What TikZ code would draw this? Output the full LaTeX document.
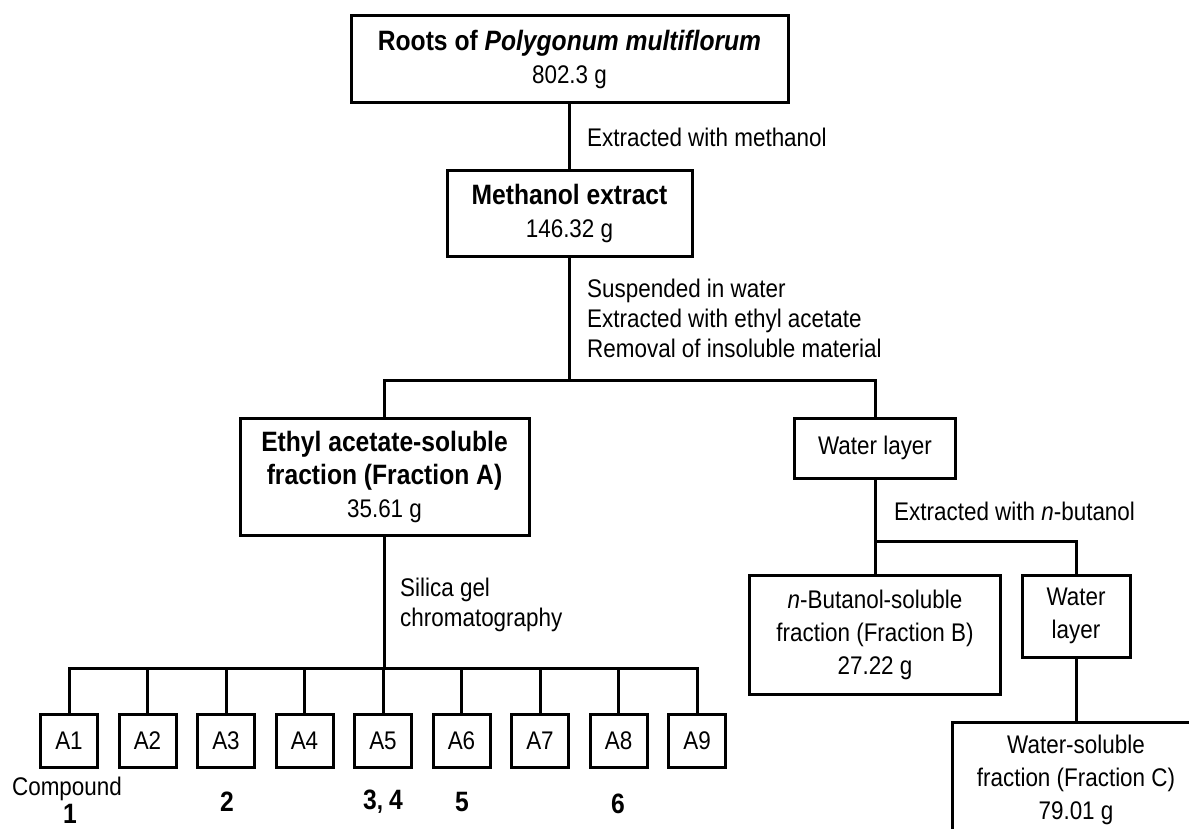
\documentclass[tikz,border=0pt]{standalone}
\usepackage{fontspec}
\setmainfont{Liberation Sans}[FakeStretch=0.88]
\newcommand{\rgfont}{\fontsize{25.5}{33}\selectfont}
\newcommand{\lblfont}{\fontsize{25.5}{30}\selectfont}
\newcommand{\bdfont}{\fontsize{28}{33}\selectfont\bfseries}
\begin{document}
\begin{tikzpicture}[x=1pt,y=-1pt,
  box/.style={draw, line width=3pt, rectangle, inner sep=0pt, align=center, font=\rgfont},
  conn/.style={line width=3pt, line join=miter},
  lbl/.style={inner sep=0pt, font=\lblfont, align=left, anchor=west},
  txt/.style={inner sep=0pt, font=\rgfont},
  num/.style={inner sep=0pt, font=\bdfont}]
\clip (0,0) rectangle (1189,829);
% boxes
\node[box, minimum width=437pt, minimum height=87pt] (roots) at (569.5,59.5) {{\bdfont Roots of \textit{Polygonum multiflorum}}\\802.3 g};
\node[box, minimum width=245pt, minimum height=86pt] (meth) at (569.5,214) {{\bdfont Methanol extract}\\146.32 g};
\node[box, minimum width=289pt, minimum height=117pt] (ethyl) at (384.5,476.5) {{\bdfont Ethyl acetate-soluble}\\{\bdfont fraction (Fraction A)}\\35.61 g};
\node[box, minimum width=161pt, minimum height=60pt] (water1) at (875,448) {Water layer};
\node[box, minimum width=251pt, minimum height=119pt] (buta) at (875,634.5) {\textit{n}-Butanol-soluble\\fraction (Fraction B)\\27.22 g};
\node[box, minimum width=108pt, minimum height=82pt] (water2) at (1076,616) {Water\\layer};
\node[box, minimum width=248pt, minimum height=116pt] (wsol) at (1076,780) {Water-soluble\\fraction (Fraction C)\\79.01 g};
\foreach \i in {1,...,9}
  \node[box, minimum width=57pt, minimum height=53pt] (A\i) at ({69+78.5*(\i-1)},740.5) {A\i};
% split coordinates
\coordinate (s1) at (570,380);
\coordinate (s2) at (384,668);
\coordinate (s3) at (875,541);
% connectors
\draw[conn] (roots.south) -- (meth.north);
\draw[conn] (meth.south) -- (meth.south |- s1);
\draw[conn] (ethyl.north) -- (ethyl.north |- s1) -- (water1.north |- s1) -- (water1.north);
\draw[conn] (water1.south) -- (buta.north);
\draw[conn] (water1.south |- s3) -- (water2.north |- s3) -- (water2.north);
\draw[conn] (water2.south) -- (wsol.north);
\draw[conn] (ethyl.south) -- (ethyl.south |- s2);
\draw[conn] (A1.north) -- (A1.north |- s2) -- (A9.north |- s2) -- (A9.north);
\foreach \i in {2,...,8}
  \draw[conn] (A\i.north |- s2) -- (A\i.north);
% labels
\node[lbl] (l1) at (587,137) {Extracted with methanol};
\node[lbl] (l2) at (587,318) {Suspended in water\\Extracted with ethyl acetate\\Removal of insoluble material};
\node[lbl] (l3) at (894,511) {Extracted with \textit{n}-butanol};
\node[lbl] (l4) at (400,605) {Silica gel\\chromatography};
% compounds
\node[txt] (c0) at (67,789) {Compound};
\node[num] (c1) at (70,814) {1};
\node[num] (c2) at (227,802) {2};
\node[txt] (c34) at (383,802) {\bdfont 3\rgfont, \bdfont 4};
\node[num] (c5) at (462,802) {5};
\node[num] (c6) at (618,804) {6};
\end{tikzpicture}
\end{document}
